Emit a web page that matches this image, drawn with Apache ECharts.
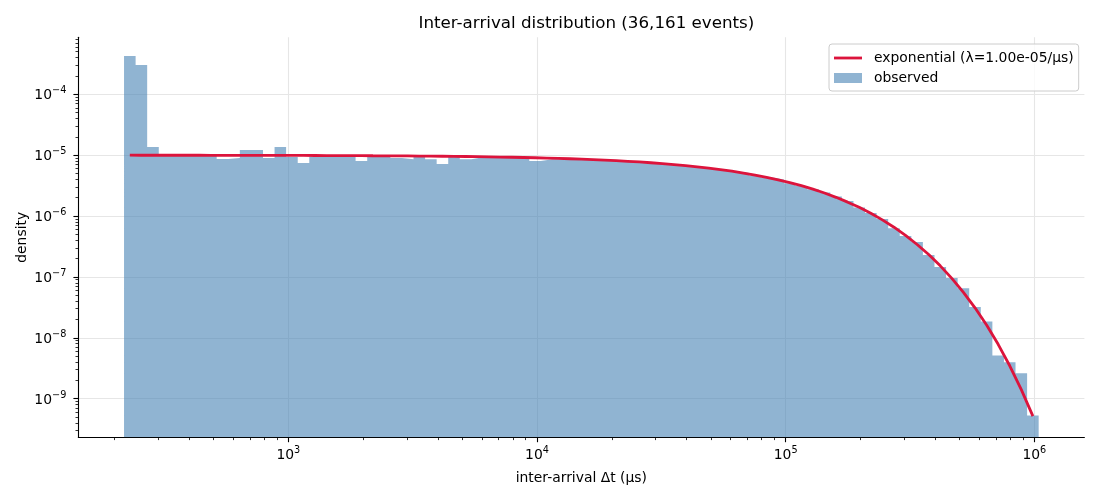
<!DOCTYPE html>
<html>
<head>
<meta charset="utf-8">
<script src="https://cdn.jsdelivr.net/npm/echarts@6/dist/echarts.min.js"></script>
<style>
  html, body { margin: 0; padding: 0; background: #fff; }
  #chart { width: 1100px; height: 500px; }
</style>
</head>
<body>
<div id="chart"></div>
<script>
// log-spaced bin edges (µs), 79 bins
var binEdges = [218.4, 243.1, 270.6, 301.3, 335.4, 373.4, 415.6, 462.7, 515.1, 573.3,
  638.2, 710.5, 790.7, 880.3, 979.7, 1091, 1214, 1352, 1505, 1675,
  1864, 2076, 2310, 2572, 2863, 3187, 3548, 3949, 4395, 4892,
  5446, 6063, 6749, 7514, 8363, 9310, 10363, 11535, 12842, 14294,
  15913, 17715, 19718, 21950, 24432, 27199, 30279, 33703, 37520, 41762,
  46491, 51757, 57610, 64121, 71368, 79451, 88447, 98446, 109590, 121990,
  135800, 151180, 168270, 187330, 208500, 232130, 258410, 287620, 320190, 356380,
  396740, 441670, 491600, 547270, 609130, 678100, 754880, 840220, 935380, 1041100];

// observed density per bin
var observedDensity = [4.27e-4, 3.03e-4, 1.36e-5, 1.03e-5, 1.01e-5, 1.02e-5, 1.01e-5, 1.00e-5, 8.63e-6, 8.95e-6,
  1.21e-5, 1.21e-5, 8.95e-6, 1.36e-5, 9.3e-6, 7.41e-6, 9.3e-6, 9.66e-6, 9.66e-6, 9.3e-6,
  8.0e-6, 9.66e-6, 9.9e-6, 8.95e-6, 8.6e-6, 9.6e-6, 8.6e-6, 7.15e-6, 9.6e-6, 8.6e-6,
  9.2e-6, 9.1e-6, 9.2e-6, 9.0e-6, 9.1e-6, 8.0e-6, 8.6e-6, 8.6e-6, 8.6e-6, 8.45e-6,
  8.45e-6, 8.2e-6, 7.95e-6, 7.93e-6, 7.65e-6, 7.35e-6, 7.27e-6, 6.94e-6, 6.6e-6, 6.37e-6,
  6.12e-6, 5.68e-6, 5.39e-6, 5.08e-6, 4.62e-6, 4.28e-6, 3.97e-6, 3.44e-6, 3.12e-6, 2.76e-6,
  2.44e-6, 2.1e-6, 1.76e-6, 1.38e-6, 1.12e-6, 8.9e-7, 6.3e-7, 4.7e-7, 3.75e-7, 2.3e-7,
  1.46e-7, 9.6e-8, 6.5e-8, 3.2e-8, 1.86e-8, 5.1e-9, 3.96e-9, 2.62e-9, 5.3e-10];

// exponential fit evaluated at bin centres
var fitDensity = [9.98e-6, 9.97e-6, 9.97e-6, 9.97e-6, 9.96e-6, 9.96e-6, 9.96e-6, 9.95e-6, 9.95e-6, 9.94e-6,
  9.93e-6, 9.93e-6, 9.92e-6, 9.91e-6, 9.90e-6, 9.89e-6, 9.87e-6, 9.86e-6, 9.84e-6, 9.82e-6,
  9.81e-6, 9.78e-6, 9.76e-6, 9.73e-6, 9.70e-6, 9.67e-6, 9.63e-6, 9.59e-6, 9.55e-6, 9.50e-6,
  9.44e-6, 9.38e-6, 9.31e-6, 9.24e-6, 9.16e-6, 9.06e-6, 8.96e-6, 8.85e-6, 8.73e-6, 8.60e-6,
  8.45e-6, 8.30e-6, 8.12e-6, 7.93e-6, 7.73e-6, 7.51e-6, 7.27e-6, 7.01e-6, 6.73e-6, 6.44e-6,
  6.12e-6, 5.79e-6, 5.45e-6, 5.08e-6, 4.71e-6, 4.32e-6, 3.93e-6, 3.54e-6, 3.15e-6, 2.76e-6,
  2.39e-6, 2.03e-6, 1.69e-6, 1.39e-6, 1.11e-6, 8.64e-7, 6.55e-7, 4.81e-7, 3.41e-7, 2.33e-7,
  1.52e-7, 9.46e-8, 5.59e-8, 3.11e-8, 1.62e-8, 7.81e-9, 3.47e-9, 1.41e-9, 5.17e-10];

var majorX = [1e3, 1e4, 1e5, 1e6];
var majorY = [1e-9, 1e-8, 1e-7, 1e-6, 1e-5, 1e-4];
var minorSteps = [2, 3, 4, 5, 6, 7, 8, 9];
var xRange = [143, 1.59e6];
var yRange = [2.32e-10, 8.63e-4];

var titleText = 'Inter-arrival distribution (36,161 events)';
var fitName = 'exponential (\u03bb=1.00e-05/\u00b5s)';
var obsName = 'observed';

var FONT = 'DejaVu Sans';
var lg = Math.log10;

function minorTicks(range) {
  var out = [];
  for (var d = Math.floor(lg(range[0])); d <= Math.ceil(lg(range[1])); d++) {
    minorSteps.forEach(function (m) {
      var v = m * Math.pow(10, d);
      if (v >= range[0] && v <= range[1]) out.push(lg(v));
    });
  }
  return out;
}

function powLabel(v) {
  var e = Math.round(v);
  var s = e < 0 ? '\u2212' + (-e) : '' + e;
  return '{b|10}{s|' + s + '}';
}
var powRich = {
  b: { fontFamily: FONT, fontSize: 13.9, color: '#000', lineHeight: 17, verticalAlign: 'bottom' },
  s: { fontFamily: FONT, fontSize: 9.7, color: '#000', lineHeight: 11, verticalAlign: 'top' }
};

// histogram as a stepped area (one point per left edge, plus the last right edge)
var histPoints = [];
for (var i = 0; i < observedDensity.length; i++) {
  histPoints.push([lg(binEdges[i]), lg(observedDensity[i])]);
}
histPoints.push([lg(binEdges[binEdges.length - 1]), lg(observedDensity[observedDensity.length - 1])]);

var fitPoints = fitDensity.map(function (y, i) {
  return [(lg(binEdges[i]) + lg(binEdges[i + 1])) / 2, lg(y)];
});

var xMin = lg(xRange[0]), xMax = lg(xRange[1]);
var yMin = lg(yRange[0]), yMax = lg(yRange[1]);

var option = {
  animation: false,
  backgroundColor: '#fff',
  title: {
    text: titleText,
    left: 581.4,
    top: 9,
    textAlign: 'center',
    textStyle: { fontFamily: FONT, fontSize: 16.7, fontWeight: 'normal', color: '#000', lineHeight: 20 }
  },
  legend: {
    left: 829,
    top: 44,
    orient: 'vertical',
    itemWidth: 28,
    itemHeight: 10,
    itemGap: 4,
    padding: [6, 5, 5, 5],
    borderColor: '#cccccc',
    borderWidth: 1,
    borderRadius: 3,
    backgroundColor: 'rgba(255,255,255,0.8)',
    textStyle: { fontFamily: FONT, fontSize: 13.9, color: '#000', lineHeight: 16, padding: [0, 0, 0, 7] },
    data: [
      { name: fitName, icon: 'path://M0,0L28,0L28,2.8L0,2.8Z' },
      { name: obsName, icon: 'rect' }
    ]
  },
  grid: { left: 78.3, right: 15.6, top: 37.3, bottom: 62.7, containLabel: false },
  xAxis: [{
    type: 'value',
    min: xMin,
    max: xMax,
    position: 'bottom',
    name: 'inter-arrival \u0394t (\u00b5s)',
    nameLocation: 'middle',
    nameGap: 33,
    nameMoveOverlap: false,
    nameTextStyle: { fontFamily: FONT, fontSize: 13.9, color: '#000', lineHeight: 16 },
    axisLine: { show: true, onZero: false, lineStyle: { color: '#000', width: 1.1 } },
    axisTick: { show: true, length: 4.9, customValues: majorX.map(lg), lineStyle: { color: '#000', width: 1.1 } },
    axisLabel: { show: true, margin: 8, customValues: majorX.map(lg), formatter: powLabel, rich: powRich },
    splitLine: { show: true, lineStyle: { color: '#e6e6e6', width: 1.1 } }
  }, {
    type: 'value',
    min: xMin,
    max: xMax,
    position: 'bottom',
    axisLine: { show: false, onZero: false },
    axisTick: { show: true, length: 2.8, customValues: minorTicks(xRange), lineStyle: { color: '#000', width: 0.8 } },
    axisLabel: { show: false },
    splitLine: { show: false }
  }],
  yAxis: [{
    type: 'value',
    min: yMin,
    max: yMax,
    position: 'left',
    name: 'density',
    nameLocation: 'middle',
    nameGap: 48,
    nameMoveOverlap: false,
    nameTextStyle: { fontFamily: FONT, fontSize: 13.9, color: '#000', lineHeight: 16 },
    axisLine: { show: true, onZero: false, lineStyle: { color: '#000', width: 1.1 } },
    axisTick: { show: true, length: 4.9, customValues: majorY.map(lg), lineStyle: { color: '#000', width: 1.1 } },
    axisLabel: { show: true, margin: 12, customValues: majorY.map(lg), formatter: powLabel, rich: powRich },
    splitLine: { show: true, lineStyle: { color: '#e6e6e6', width: 1.1 } }
  }, {
    type: 'value',
    min: yMin,
    max: yMax,
    position: 'left',
    axisLine: { show: false, onZero: false },
    axisTick: { show: true, length: 2.8, customValues: minorTicks(yRange), lineStyle: { color: '#000', width: 0.8 } },
    axisLabel: { show: false },
    splitLine: { show: false }
  }],
  series: [{
    name: obsName,
    type: 'line',
    xAxisIndex: 0,
    yAxisIndex: 0,
    step: 'end',
    symbol: 'none',
    color: 'rgba(70,130,180,0.6)',
    itemStyle: { color: 'rgba(70,130,180,0.6)' },
    lineStyle: { width: 0, opacity: 0 },
    areaStyle: { origin: 'start', color: 'rgba(70,130,180,0.6)', opacity: 1 },
    data: histPoints,
    z: 1
  }, {
    name: fitName,
    type: 'line',
    xAxisIndex: 0,
    yAxisIndex: 0,
    symbol: 'none',
    color: '#dc143c',
    lineStyle: { color: '#dc143c', width: 2.8 },
    data: fitPoints,
    z: 2
  }]
};

var chart = echarts.init(document.getElementById('chart'), null, { renderer: 'canvas' });
chart.setOption(option);
</script>
</body>
</html>
